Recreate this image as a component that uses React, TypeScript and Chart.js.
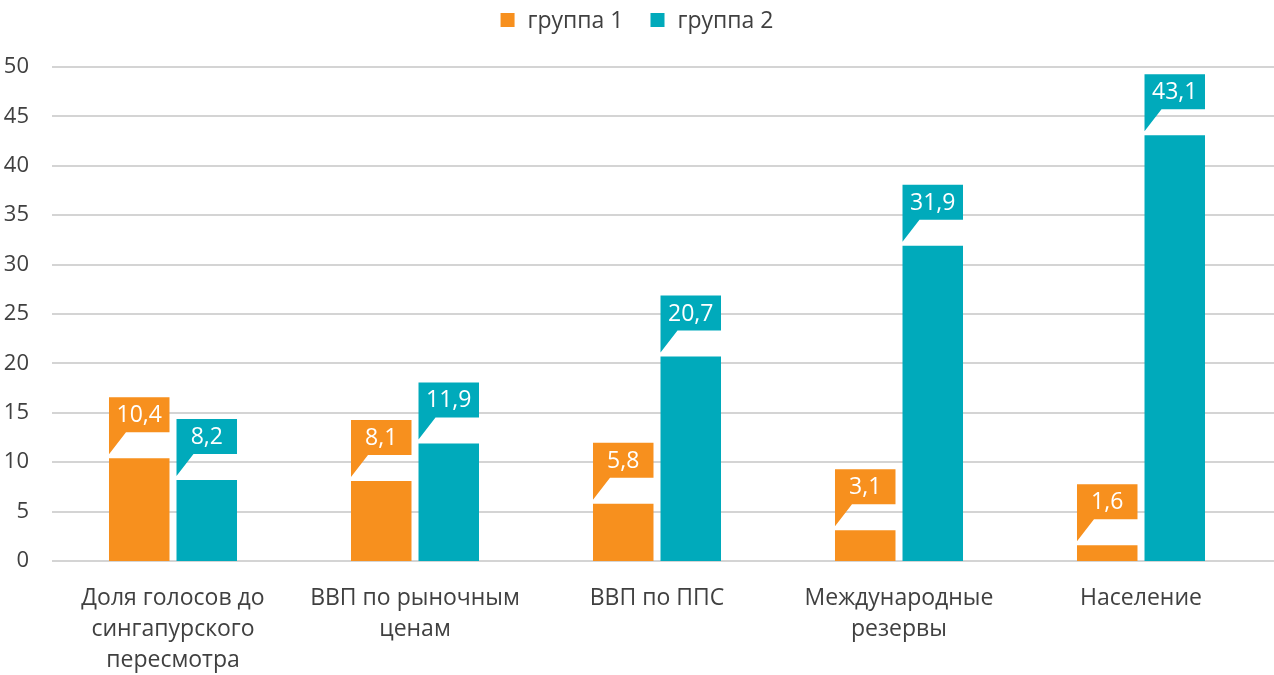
import React, { useEffect, useRef } from "react";
import { Chart, registerables } from "chart.js";

Chart.register(...registerables);

const categories: (string | string[])[] = [
  ["Доля голосов до", "сингапурского", "пересмотра"],
  ["ВВП по рыночным", "ценам"],
  "ВВП по ППС",
  ["Международные", "резервы"],
  "Население",
];
const group1 = [10.4, 8.1, 5.8, 3.1, 1.6];
const group2 = [8.2, 11.9, 20.7, 31.9, 43.1];
const seriesNames = ["группа 1", "группа 2"];
const seriesColors = ["#F7901E", "#00AABB"];

const FONT = "'Open Sans', 'DejaVu Sans', sans-serif";
const TEXT = "#404040";

const overlay = {
  id: "overlay",
  beforeDatasetsDraw(chart: any) {
    const ctx = chart.ctx;
    const y = chart.scales.y;
    ctx.save();
    ctx.strokeStyle = "#D4D4D4";
    ctx.lineWidth = 2;
    y.ticks.forEach((t: any) => {
      const py = Math.round(y.getPixelForValue(t.value));
      ctx.beginPath();
      ctx.moveTo(chart.chartArea.left, py);
      ctx.lineTo(chart.width, py);
      ctx.stroke();
    });
    ctx.restore();
  },
  afterDatasetsDraw(chart: any) {
    const ctx = chart.ctx;
    ctx.save();
    chart.data.datasets.forEach((ds: any, di: number) => {
      const meta = chart.getDatasetMeta(di);
      meta.data.forEach((bar: any, i: number) => {
        const v = ds.data[i];
        const w = bar.width;
        const left = bar.x - w / 2;
        const right = bar.x + w / 2;
        const top = bar.y - 61;
        const bottom = bar.y - 26;
        ctx.fillStyle = ds.backgroundColor;
        ctx.beginPath();
        ctx.moveTo(left, top);
        ctx.lineTo(right, top);
        ctx.lineTo(right, bottom);
        ctx.lineTo(left + 17, bottom);
        ctx.lineTo(left, bar.y - 4);
        ctx.closePath();
        ctx.fill();
        ctx.fillStyle = "#FFFFFF";
        ctx.font = `500 23px ${FONT}`;
        ctx.textAlign = "center";
        ctx.textBaseline = "middle";
        ctx.fillText(String(v).replace(".", ","), bar.x, (top + bottom) / 2 + 1);
      });
    });
    // legend
    ctx.font = `23px ${FONT}`;
    ctx.textBaseline = "middle";
    ctx.textAlign = "left";
    const box = 14;
    const gapBox = 13;
    const gapItem = 27;
    const widths = seriesNames.map((n) => box + gapBox + ctx.measureText(n).width);
    const total = widths.reduce((a, b) => a + b, 0) + gapItem * (widths.length - 1);
    let x = 637 - total / 2;
    const cy = 20;
    seriesNames.forEach((n, i) => {
      ctx.fillStyle = seriesColors[i];
      ctx.fillRect(x, cy - box / 2, box, box);
      ctx.fillStyle = TEXT;
      ctx.fillText(n, x + box + gapBox, cy + 1);
      x += widths[i] + gapItem;
    });
    ctx.restore();
  },
};

export default function App() {
  const ref = useRef<HTMLCanvasElement>(null);
  useEffect(() => {
    document.body.style.margin = "0";
    const chart = new Chart(ref.current!, {
      type: "bar",
      data: {
        labels: categories,
        datasets: [
          { label: seriesNames[0], data: group1, backgroundColor: seriesColors[0] },
          { label: seriesNames[1], data: group2, backgroundColor: seriesColors[1] },
        ],
      },
      options: {
        animation: false,
        responsive: false,
        maintainAspectRatio: false,
        categoryPercentage: 0.558,
        barPercentage: 0.896,
        layout: { padding: { top: 67, right: 12, bottom: 0, left: 0 } },
        plugins: { legend: { display: false }, tooltip: { enabled: false } },
        scales: {
          x: {
            grid: { display: false },
            border: { display: false },
            ticks: {
              color: TEXT,
              font: { family: FONT, size: 23, lineHeight: 1.35 },
              padding: 14,
              maxRotation: 0,
              autoSkip: false,
            },
            afterFit(s: any) {
              s.height = 114;
            },
          },
          y: {
            min: 0,
            max: 50,
            grid: { display: false },
            border: { display: false },
            ticks: {
              stepSize: 5,
              color: TEXT,
              font: { family: FONT, size: 22 },
              padding: 15,
            },
            afterFit(s: any) {
              s.width = 52;
            },
          },
        },
      },
      plugins: [overlay],
    });
    return () => chart.destroy();
  }, []);
  return (
    <div style={{ position: "absolute", left: 0, top: 0, width: 1274, height: 675 }}>
      <canvas ref={ref} width={1274} height={675} style={{ width: 1274, height: 675 }} />
    </div>
  );
}
